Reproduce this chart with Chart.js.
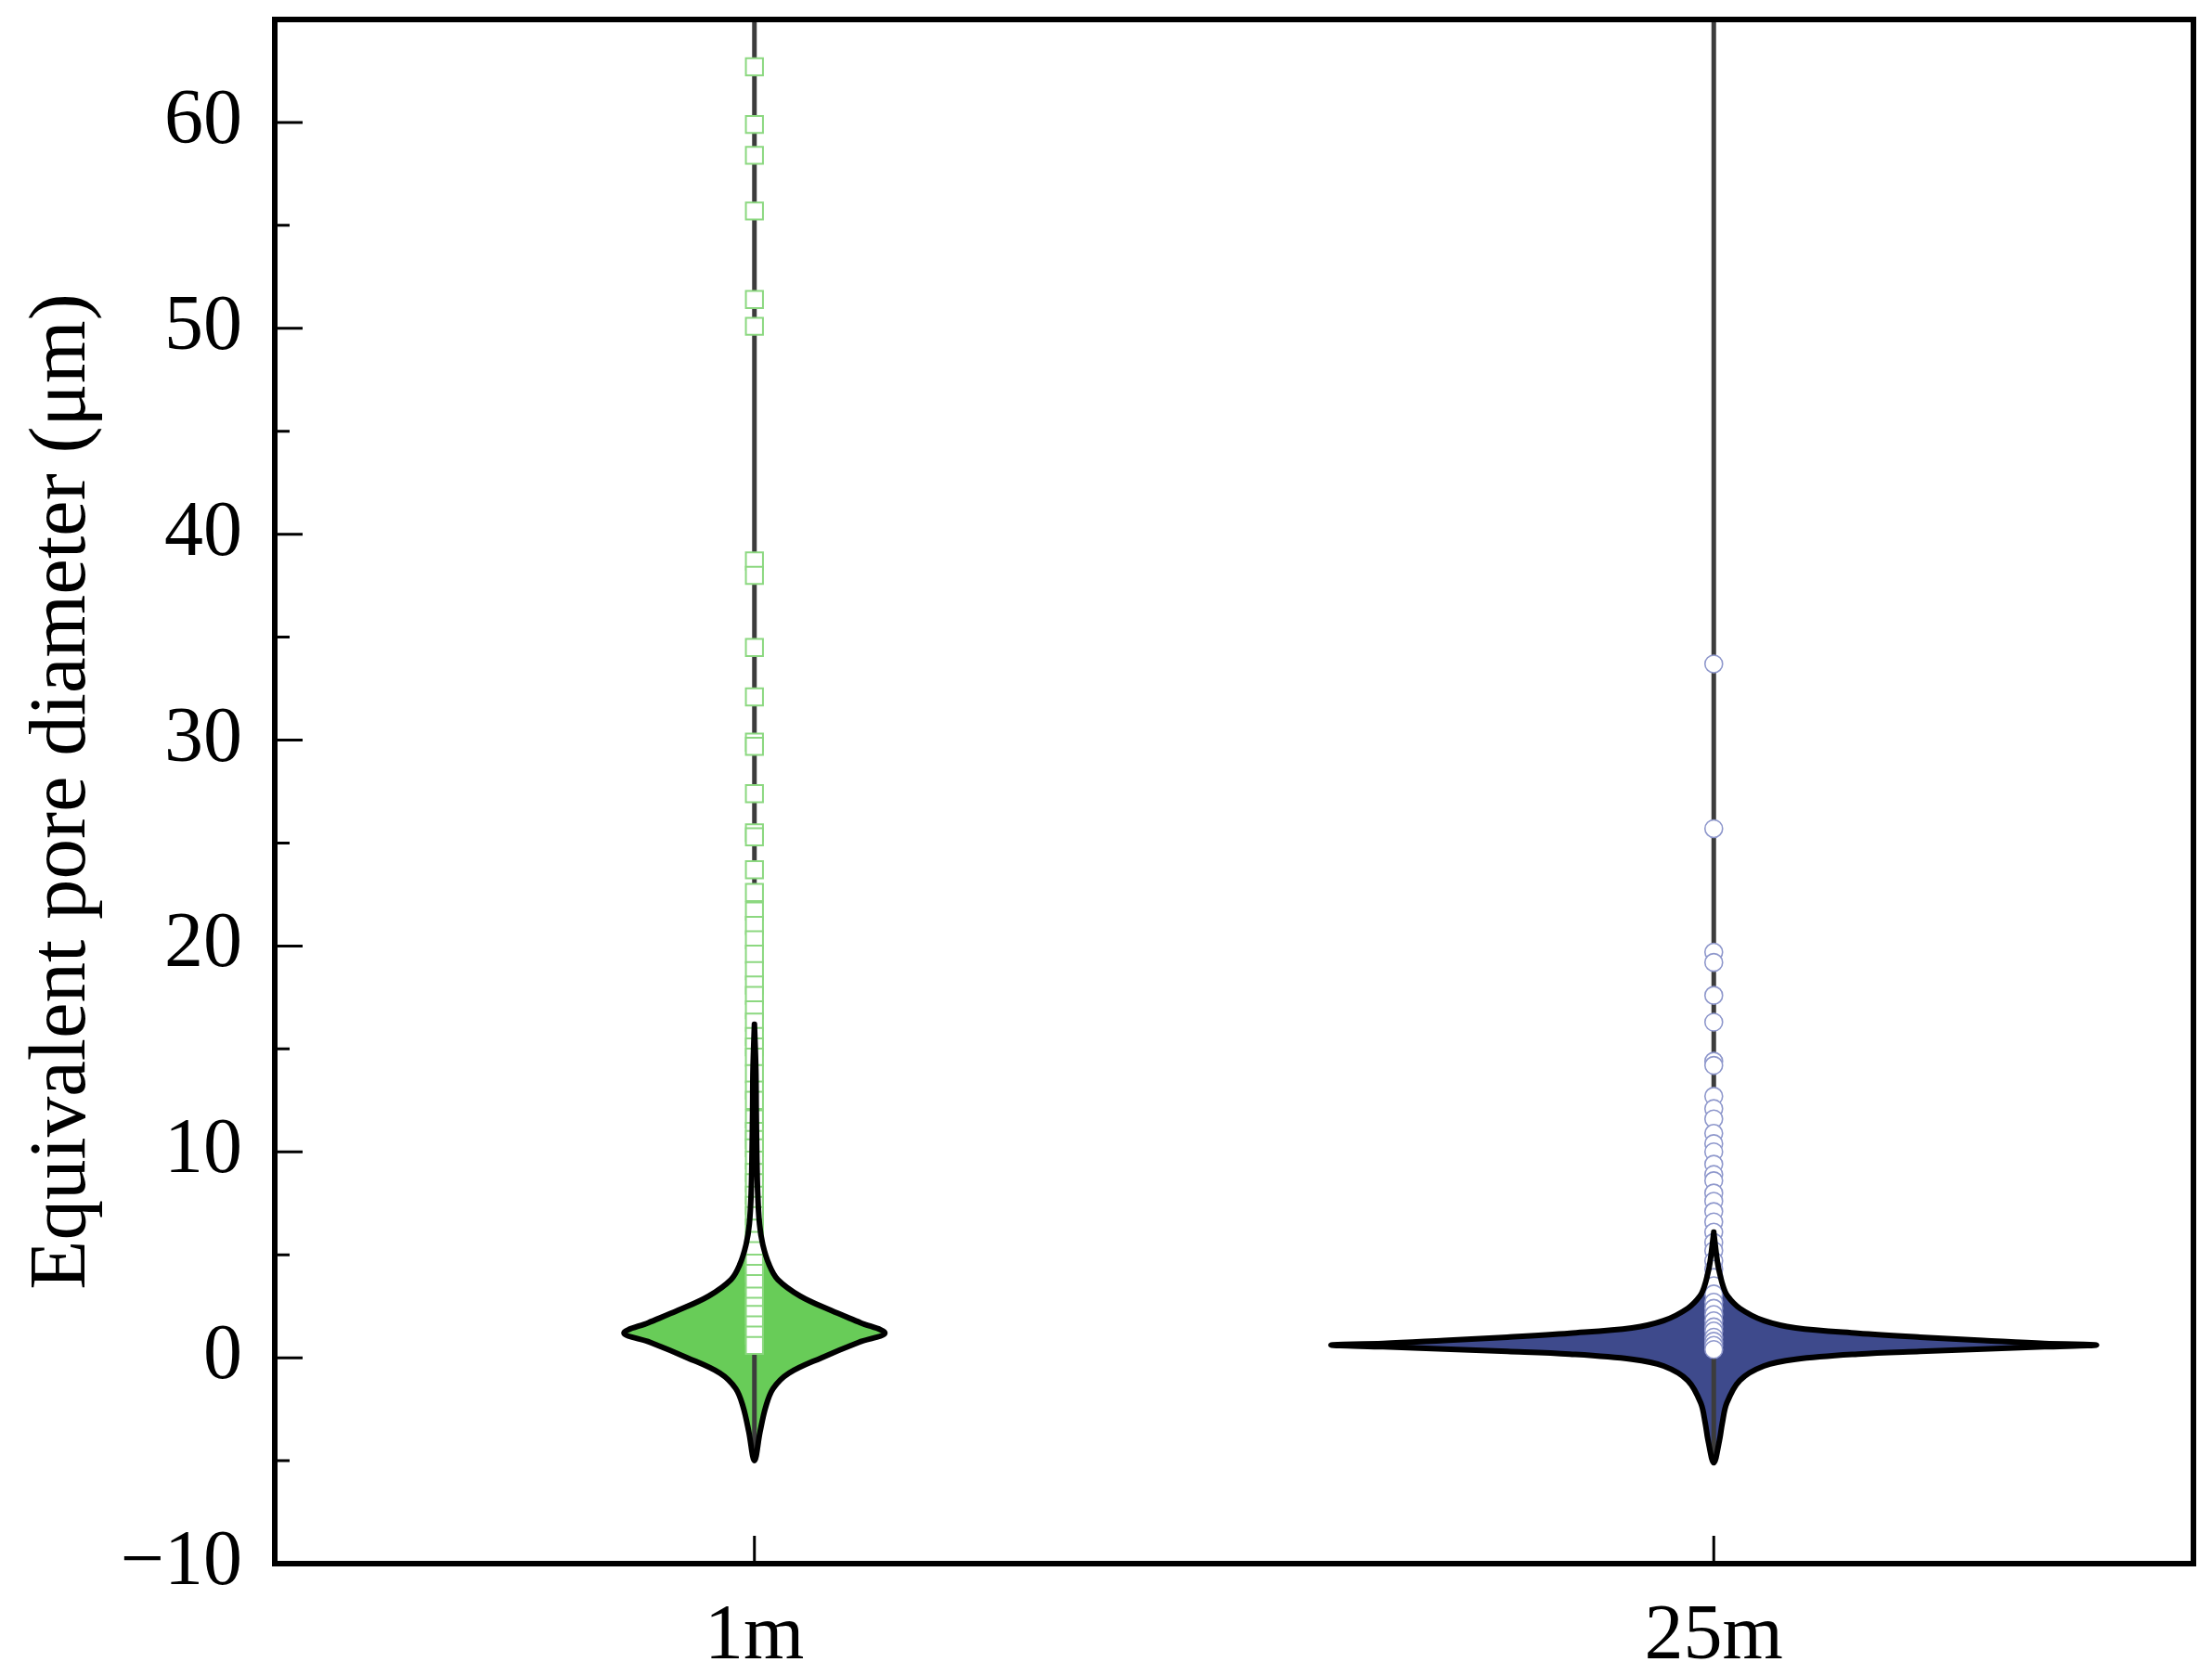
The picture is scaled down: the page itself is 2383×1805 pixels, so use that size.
<!DOCTYPE html>
<html>
<head>
<meta charset="utf-8">
<script src="https://cdn.jsdelivr.net/npm/chart.js@4.4.1/dist/chart.umd.min.js"></script>
<style>
  html, body { margin: 0; padding: 0; background: #fff; }
  #wrap { width: 2383px; height: 1805px; }
</style>
</head>
<body>
<div id="wrap"><canvas id="violinChart" width="2383" height="1805"></canvas></div>
<script>
// Groups and axis ticks
const categories = ['1m', '25m'];
const yMajorTicks = [-10, 0, 10, 20, 30, 40, 50, 60];
const yMinorTicks = [-5, 5, 15, 25, 35, 45, 55];

// Individual pore diameters shown as markers (µm)
const pores1m = [62.7, 59.9, 58.4, 55.7, 51.4, 50.1, 38.7, 38.0, 34.5, 32.1, 29.9, 29.7,
  27.4, 25.5, 25.3, 23.7, 22.6, 21.7, 21.0, 20.3, 19.6, 18.8, 18.1, 17.6, 16.9, 16.3,
  15.6, 15.1, 14.6, 13.8, 13.0, 12.5, 11.6, 11.0, 10.6, 10.2, 9.6, 9.0, 8.5, 7.9, 7.4,
  6.9, 6.3, 5.7, 5.2, 4.6, 4.1, 3.6, 3.0, 2.5, 2.1, 1.6, 1.1, 0.6];
const pores25m = [33.7, 25.7, 19.7, 19.2, 17.6, 16.3, 14.4, 14.2, 12.7, 12.1, 11.6, 10.9,
  10.4, 10.0, 9.4, 8.9, 8.6, 8.0, 7.6, 7.1, 6.6, 6.1, 5.6, 5.2, 4.7, 4.3, 3.9, 3.5, 3.1,
  2.7, 2.4, 2.1, 1.8, 1.5, 1.3, 1.0, 0.8, 0.6, 0.4];

// Violin outlines: levels (µm, top to bottom) and relative half-width at each level
const levels1m = [16.2, 14.0, 12.0, 10.0, 8.0, 6.5, 5.5, 4.5, 3.8, 3.0, 2.3, 1.7, 1.2,
  0.75, 0.0, -0.75, -1.5, -2.4, -3.6, -5.0];
const density1m = [0, 0.011, 0.014, 0.018, 0.025, 0.039, 0.064, 0.114, 0.179, 0.35,
  0.586, 0.814, 1, 0.8, 0.514, 0.264, 0.143, 0.086, 0.043, 0];
const levels25m = [6.1, 5.0, 4.4, 3.5, 3.0, 2.4, 1.8, 1.45, 1.19, 1.0, 0.84, 0.69, 0.62,
  0.53, 0.42, 0.31, 0.18, -0.07, -0.4, -1.1, -2.2, -3.2, -4.0, -5.1];
const density25m = [0, 0.007, 0.012, 0.024, 0.036, 0.068, 0.131, 0.214, 0.376, 0.539,
  0.704, 0.864, 1, 0.864, 0.704, 0.539, 0.376, 0.214, 0.131, 0.068, 0.034, 0.022, 0.015, 0];

// Range of the vertical line through each violin
const lineLow = [-5.0, -5.1];
const lineHigh = [65, 65];

// Style settings
const FONT = "'Liberation Serif', 'Times New Roman', serif";
const violinHalfWidth = [0.136, 0.399];   // x units at relative width 1
const violinColors = ['#68cc58', '#3e4a8c'];

function outline(i, levels, dens) {
  const pos = i + 1, w = violinHalfWidth[i];
  const left = levels.map((v, k) => ({ x: pos - dens[k] * w, y: v }));
  const right = [];
  for (let k = levels.length - 2; k >= 0; k--) right.push({ x: pos + dens[k] * w, y: levels[k] });
  return left.concat(right);
}

const shapes = [outline(0, levels1m, density1m), outline(1, levels25m, density25m)];
const pores = [pores1m, pores25m];

const datasets = [];
categories.forEach((c, i) => {
  // filled body (under everything)
  datasets.push({
    data: shapes[i], showLine: true, shapeFill: violinColors[i],
    borderColor: 'rgba(0,0,0,0)', borderWidth: 1, pointRadius: 0, tension: 0.35, order: 4
  });
  // vertical line
  datasets.push({
    data: [{ x: i + 1, y: lineLow[i] }, { x: i + 1, y: lineHigh[i] }],
    showLine: true, borderColor: '#3c3c3c', borderWidth: 5, pointRadius: 0, order: 3
  });
  // markers
  datasets.push({
    data: pores[i].map(v => ({ x: i + 1, y: v })),
    pointStyle: i === 0 ? 'rect' : 'circle',
    pointRadius: i === 0 ? 13 : 9.5,
    pointBorderWidth: i === 0 ? 2 : 1.6,
    pointBorderColor: i === 0 ? '#8cd880' : '#8f98cc',
    pointBackgroundColor: '#ffffff',
    order: 2
  });
  // black outline on top
  datasets.push({
    data: shapes[i], showLine: true, fill: false,
    borderColor: '#000000', borderWidth: 6, borderJoinStyle: 'round', borderCapStyle: 'round',
    pointRadius: 0, tension: 0.35, order: 1
  });
});

// Fill the violin body using the line element's own path
const violinFill = {
  id: 'violinFill',
  beforeDatasetDraw(chart, args) {
    const ds = chart.data.datasets[args.index];
    if (!ds.shapeFill) return;
    const ctx = chart.ctx;
    const line = args.meta.dataset;
    line.updateControlPoints(chart.chartArea, 'x');
    ctx.save();
    ctx.beginPath();
    line.path(ctx);
    ctx.closePath();
    ctx.fillStyle = ds.shapeFill;
    ctx.fill();
    ctx.restore();
  }
};

// Inward ticks and the box frame
const frameTicks = {
  id: 'frameTicks',
  afterDatasetsDraw(chart) {
    const { ctx, chartArea: a, scales: { x, y } } = chart;
    ctx.save();
    ctx.strokeStyle = '#000';
    ctx.lineWidth = 3;
    ctx.beginPath();
    yMajorTicks.forEach(v => {
      const py = y.getPixelForValue(v);
      ctx.moveTo(a.left, py); ctx.lineTo(a.left + 30, py);
    });
    yMinorTicks.forEach(v => {
      const py = y.getPixelForValue(v);
      ctx.moveTo(a.left, py); ctx.lineTo(a.left + 16, py);
    });
    categories.forEach((c, i) => {
      const px = x.getPixelForValue(i + 1);
      ctx.moveTo(px, a.bottom); ctx.lineTo(px, a.bottom - 30);
    });
    ctx.stroke();
    ctx.lineWidth = 6;
    ctx.strokeRect(a.left, a.top, a.right - a.left, a.bottom - a.top);
    ctx.restore();
  }
};

function noPad(s) {
  s.paddingTop = 0; s.paddingBottom = 0; s.paddingLeft = 0; s.paddingRight = 0;
}

new Chart(document.getElementById('violinChart'), {
  type: 'scatter',
  data: { datasets },
  options: {
    responsive: false,
    devicePixelRatio: 1,
    animation: false,
    layout: { padding: { top: 21, right: 20, left: 0, bottom: 0 } },
    plugins: { legend: { display: false }, tooltip: { enabled: false } },
    scales: {
      x: {
        type: 'linear', min: 0.5, max: 2.5,
        afterBuildTicks: s => { s.ticks = categories.map((c, i) => ({ value: i + 1 })); },
        afterFit: s => { s.height = 120; noPad(s); },
        ticks: {
          callback: v => categories[v - 1], autoSkip: false, maxRotation: 0,
          color: '#000', padding: 30, font: { family: FONT, size: 84 }
        },
        grid: { display: false, drawTicks: false },
        border: { display: false }
      },
      y: {
        min: -10, max: 65,
        afterBuildTicks: s => { s.ticks = yMajorTicks.map(v => ({ value: v })); },
        afterFit: s => { s.width = 296; noPad(s); },
        ticks: {
          callback: v => (v < 0 ? '\u2212' + Math.abs(v) : String(v)),
          color: '#000', padding: 35, font: { family: FONT, size: 84 }
        },
        title: {
          display: true, text: 'Equivalent pore diameter (\u03bcm)', color: '#000',
          font: { family: FONT, size: 87 }, padding: { top: 16, bottom: 0 }
        },
        grid: { display: false, drawTicks: false },
        border: { display: false }
      }
    }
  },
  plugins: [violinFill, frameTicks]
});
</script>
</body>
</html>
